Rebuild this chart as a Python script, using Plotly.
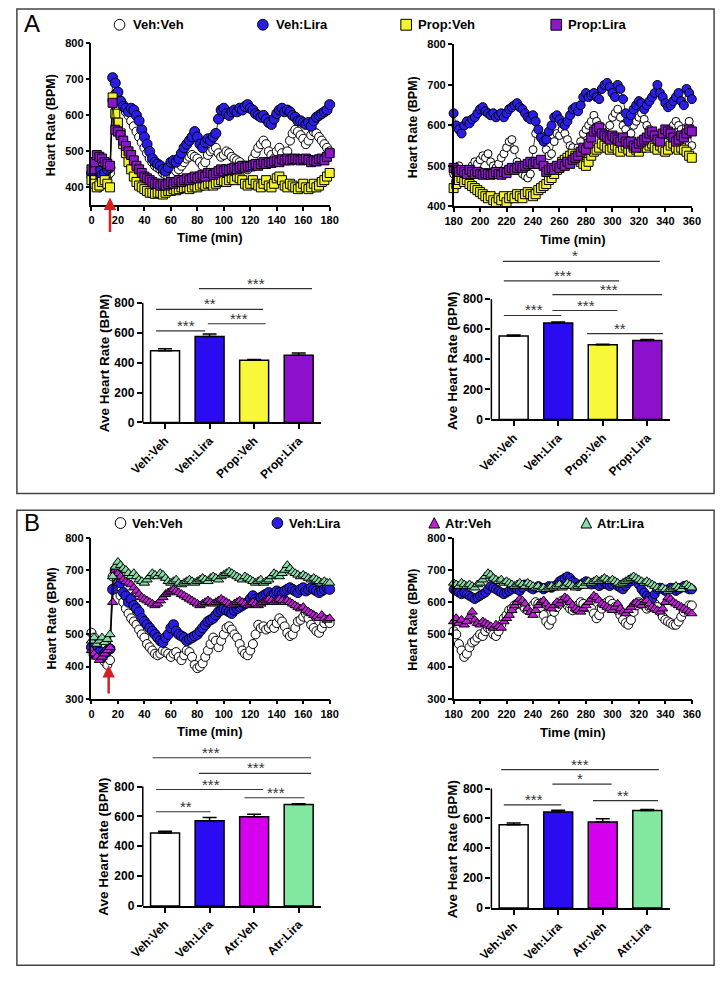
import plotly.graph_objects as go

W, H = 726, 983
FONT = "Liberation Sans, Arial, sans-serif"

# ---------------- time axes ----------------
t_first = list(range(0, 181, 2))
t_second = list(range(180, 361, 2))

# ---------------- Panel A, 0-180 min ----------------
vv_A1 = [430,420,410,400,410,420,430,440,640,660,
         645,640,630,610,600,585,570,555,540,525,
         510,495,480,470,460,455,450,440,435,430,
         425,430,445,450,460,470,480,485,490,485,
         480,470,460,470,490,500,505,510,495,485,
         490,500,495,485,480,475,470,460,455,450,
         460,480,495,510,520,530,520,500,490,480,
         500,510,495,480,500,530,550,560,555,545,
         535,520,530,545,555,550,540,530,520,510,
         500]
vl_A1 = [440,430,450,445,435,440,450,455,705,690,
         665,640,625,620,610,620,615,600,585,560,
         540,520,500,480,470,465,460,450,445,455,
         470,475,470,480,495,510,520,530,540,555,
         540,520,510,525,535,530,540,550,590,615,
         620,605,600,610,615,610,620,615,625,630,
         620,615,605,600,595,600,590,580,575,590,
         605,615,620,610,615,610,600,595,585,585,
         580,575,580,570,585,595,600,605,610,615,
         630]
pv_A1 = [420,410,400,405,415,420,410,400,650,605,
         580,550,520,495,470,450,430,415,405,400,
         395,390,385,385,382,385,385,380,385,390,
         390,395,392,395,400,398,400,395,400,405,
         400,405,410,405,410,412,405,410,415,420,
         418,415,420,425,420,430,425,420,410,405,
         410,420,410,405,400,410,420,405,400,410,
         425,430,420,405,400,410,405,400,395,400,
         410,400,395,400,410,400,405,415,420,430,
         440]
pl_A1 = [450,470,490,485,480,470,465,460,635,560,
         555,545,530,515,500,490,475,460,450,440,
         430,425,420,415,410,410,405,410,405,410,
         415,410,415,420,415,420,425,420,425,430,
         425,430,435,430,440,440,435,440,445,450,
         445,450,448,452,455,450,455,460,455,460,
         458,462,465,460,465,470,465,470,468,472,
         475,470,478,475,480,475,478,480,478,475,
         478,480,476,470,475,472,478,480,475,485,
         495]

# ---------------- Panel A, 180-360 min ----------------
vv_A2 = [480,490,500,490,480,485,490,500,510,505,
         515,525,520,530,510,500,495,505,520,530,
         545,560,565,540,510,490,480,475,470,480,
         540,580,590,575,560,540,525,530,560,580,
         575,590,580,565,550,545,530,545,560,580,
         590,600,610,625,610,600,595,580,570,600,
         620,630,640,620,600,590,575,580,600,610,
         620,630,615,600,590,575,560,565,570,580,
         585,575,590,600,610,600,590,580,595,610,
         550]
vl_A2 = [630,600,590,580,600,610,605,615,620,630,
         640,645,635,630,625,630,620,625,630,620,
         630,640,645,650,655,645,640,630,620,615,
         625,610,590,570,560,565,585,600,620,625,
         615,605,600,610,625,640,645,635,650,670,
         680,670,675,680,670,665,690,700,705,695,
         680,670,700,690,665,630,610,625,640,650,
         660,655,640,650,660,670,680,700,680,670,
         655,645,650,660,670,680,660,650,690,680,
         665]
pv_A2 = [445,455,465,470,460,465,455,450,445,440,
         435,430,425,420,425,415,410,420,415,425,
         410,420,425,420,430,425,420,430,435,430,
         425,430,440,445,450,455,465,470,480,490,
         500,510,515,520,525,530,525,520,510,505,
         500,510,525,535,540,545,555,550,545,540,
         545,550,540,535,545,550,540,535,545,540,
         535,545,550,545,550,555,545,540,550,545,
         535,540,550,555,545,540,545,540,535,525,
         520]
pl_A2 = [495,490,485,490,485,480,490,485,480,485,
         480,478,482,480,478,480,485,480,478,485,
         482,490,495,490,495,500,495,500,505,510,
         505,510,505,515,500,485,490,495,490,500,
         495,505,500,510,505,515,520,525,535,545,
         540,555,570,585,590,595,580,575,570,565,
         575,570,565,560,570,560,555,560,550,545,
         555,560,565,570,580,585,575,565,560,580,
         590,585,580,570,560,565,575,570,580,590,
         585]

# ---------------- Panel B, 0-180 min ----------------
vv_B1 = [505,490,470,450,430,415,405,420,680,690,
         650,620,600,580,565,550,540,530,515,500,
         490,470,460,450,440,435,440,450,445,440,
         430,440,445,430,420,435,450,445,430,405,
         395,400,410,430,450,470,490,480,460,480,
         500,520,525,515,500,490,470,450,440,435,
         450,470,500,530,520,525,515,520,530,520,
         535,550,540,525,505,495,500,520,540,545,
         555,565,550,530,520,510,505,520,535,545,
         535]
vl_B1 = [460,440,450,445,430,440,450,455,640,700,
         690,660,630,620,600,610,590,580,570,550,
         540,530,520,510,500,490,480,475,490,500,
         520,530,510,500,495,490,480,485,490,495,
         500,510,520,530,540,545,550,560,570,575,
         580,575,570,565,575,580,585,590,595,600,
         610,620,610,605,615,620,625,630,620,625,
         635,630,625,635,640,645,640,635,630,640,
         645,635,640,645,640,635,630,635,640,645,
         640]
av_B1 = [450,440,430,420,430,440,450,460,600,700,
         690,680,670,665,660,655,645,635,625,615,
         610,605,600,595,590,595,605,615,625,630,
         635,640,635,630,625,620,615,610,605,600,
         595,590,595,600,605,600,595,600,605,610,
         605,600,595,590,595,600,605,600,595,590,
         595,600,595,590,595,600,605,610,605,600,
         605,610,605,600,605,600,595,590,585,580,
         585,575,570,565,560,555,550,560,550,545,
         550]
al_B1 = [480,490,470,480,490,475,485,500,680,710,
         725,715,705,700,690,680,690,680,670,665,
         660,670,680,690,685,680,690,685,675,665,
         660,665,670,660,655,660,665,670,665,660,
         665,670,675,670,665,675,680,675,670,680,
         685,690,695,690,685,680,675,670,680,675,
         670,665,660,665,670,660,665,670,680,690,
         685,680,690,700,715,705,695,690,685,680,
         685,680,675,670,675,670,665,660,665,660,
         660]

# ---------------- Panel B, 180-360 min ----------------
vv_B2 = [510,500,470,450,430,440,460,475,480,490,
         500,495,510,520,515,500,495,510,530,550,
         560,575,580,590,595,600,590,580,575,580,
         590,600,595,580,560,540,530,545,570,585,
         595,605,600,590,580,575,580,590,600,595,
         585,590,580,565,550,560,580,595,600,605,
         595,585,575,560,545,535,530,545,570,590,
         600,595,590,580,585,590,595,585,570,555,
         545,540,535,530,530,540,555,570,580,590,
         590]
vl_B2 = [640,635,630,625,630,625,620,615,610,615,
         620,625,630,640,650,645,640,635,630,625,
         630,635,640,645,640,635,645,655,650,645,
         640,645,650,645,640,645,650,645,650,655,
         665,670,675,680,675,665,660,650,655,660,
         665,660,655,660,655,650,655,660,655,650,
         655,660,650,645,640,650,660,665,670,665,
         655,640,630,620,615,610,625,640,645,640,
         635,640,645,640,635,640,645,650,645,640,
         640]
av_B2 = [540,550,535,545,530,540,555,570,545,535,
         530,540,535,530,525,520,530,525,520,540,
         550,560,575,590,600,610,605,595,580,570,
         560,575,590,600,605,595,585,580,590,600,
         595,605,615,610,600,590,580,575,570,580,
         590,600,610,620,615,605,595,590,585,580,
         575,585,595,580,570,565,575,585,595,600,
         595,590,600,605,595,585,580,575,570,580,
         600,615,610,600,595,590,585,580,575,570,
         565]
al_B2 = [660,655,650,660,655,650,655,650,645,655,
         660,670,680,690,685,675,670,665,670,660,
         665,660,655,650,655,660,655,650,660,655,
         650,645,650,640,645,640,645,650,645,650,
         655,645,650,660,655,650,645,650,655,650,
         660,665,660,665,670,665,670,675,670,665,
         670,665,660,655,660,665,670,675,680,675,
         670,665,660,665,660,655,650,645,640,645,
         640,635,640,645,650,645,640,650,655,650,
         645]

# ---------------- bar data ----------------
cats_A = ["Veh:Veh", "Veh:Lira", "Prop:Veh", "Prop:Lira"]
cats_B = ["Veh:Veh", "Veh:Lira", "Atr:Veh", "Atr:Lira"]
bar_A1 = [480, 575, 416, 450]
err_A1 = [13, 18, 5, 15]
bar_A2 = [554, 641, 496, 525]
err_A2 = [7, 6, 3, 7]
bar_B1 = [488, 571, 598, 679]
err_B1 = [13, 22, 16, 6]
bar_B2 = [558, 642, 576, 653]
err_B2 = [11, 13, 22, 6]

# significance: (x0, x1, y, label, text_x)
sig_A1 = [(-0.2, 0.9, 614, "***", 0.48), (-0.2, 2.2, 757, "**", 1.0),
          (0.96, 2.26, 661, "***", 1.67), (0.76, 3.3, 897, "***", 2.04)]
sig_A2 = [(-0.22, 1.07, 691, "***", 0.46), (0.87, 2.33, 724, "***", 1.63),
          (1.65, 3.35, 571, "**", 2.39), (0.87, 3.33, 829, "***", 2.15),
          (-0.22, 2.37, 921, "***", 1.11), (-0.24, 3.28, 1051, "*", 1.37)]
sig_B1 = [(-0.2, 1.02, 631, "**", 0.48), (-0.2, 2.2, 780, "***", 1.04),
          (1.78, 3.13, 725, "***", 2.48), (0.76, 3.28, 888, "***", 2.04),
          (-0.28, 3.28, 993, "***", 1.04)]
sig_B2 = [(-0.22, 1.07, 690, "***", 0.46), (0.87, 2.2, 829, "*", 1.5),
          (1.78, 3.24, 719, "**", 2.46), (-0.28, 3.26, 927, "***", 1.5)]

C_WHITE = "#ffffff"
C_BLUE = "#2a1ee6"
C_YELLOW = "#f4f42e"
C_PURPLE = "#8a18c6"
C_MAG = "#c21ed8"
C_GREEN = "#86dca6"
BAR_COLORS_A = ["#ffffff", "#2a0cf2", "#f8f83a", "#8c10cc"]
BAR_COLORS_B = ["#ffffff", "#2a0cf2", "#d400ee", "#82e8a0"]


def P(x):
    return x / W


def Q(y):
    return 1 - y / H


fig = go.Figure()

tick_font = dict(family=FONT, size=11, color="black", weight="bold")


def series(xid, t, y, symbol, color, size, name):
    fig.add_trace(go.Scatter(
        x=t, y=y, mode="lines+markers", name=name, showlegend=False,
        xaxis="x" + xid, yaxis="y" + xid, cliponaxis=False,
        line=dict(color="black", width=0.8),
        marker=dict(symbol=symbol, color=color, size=size,
                    line=dict(color="black", width=1))))


# A left / right
series("", t_first, vv_A1, "circle", C_WHITE, 9, "Veh:Veh")
series("", t_first, vl_A1, "circle", C_BLUE, 10, "Veh:Lira")
series("", t_first, pv_A1, "square", C_YELLOW, 9, "Prop:Veh")
series("", t_first, pl_A1, "square", C_PURPLE, 9, "Prop:Lira")
series("2", t_second, vv_A2, "circle", C_WHITE, 8, "Veh:Veh")
series("2", t_second, vl_A2, "circle", C_BLUE, 9, "Veh:Lira")
series("2", t_second, pv_A2, "square", C_YELLOW, 9, "Prop:Veh")
series("2", t_second, pl_A2, "square", C_PURPLE, 9, "Prop:Lira")
# B left / right
series("5", t_first, vv_B1, "circle", C_WHITE, 9, "Veh:Veh")
series("5", t_first, vl_B1, "circle", C_BLUE, 10, "Veh:Lira")
series("5", t_first, av_B1, "triangle-up", C_MAG, 9, "Atr:Veh")
series("5", t_first, al_B1, "triangle-up", C_GREEN, 9, "Atr:Lira")
series("6", t_second, vv_B2, "circle", C_WHITE, 9, "Veh:Veh")
series("6", t_second, vl_B2, "circle", C_BLUE, 9, "Veh:Lira")
series("6", t_second, av_B2, "triangle-up", C_MAG, 9, "Atr:Veh")
series("6", t_second, al_B2, "triangle-up", C_GREEN, 9, "Atr:Lira")


def bars(xid, cats, vals, errs, colors):
    fig.add_trace(go.Bar(
        x=cats, y=vals, xaxis="x" + xid, yaxis="y" + xid, showlegend=False,
        width=0.65, marker=dict(color=colors, line=dict(color="black", width=1.5)),
        error_y=dict(type="data", symmetric=False, array=errs,
                     arrayminus=[0] * len(errs), color="black",
                     thickness=1.5, width=7)))


bars("3", cats_A, bar_A1, err_A1, BAR_COLORS_A)
bars("4", cats_A, bar_A2, err_A2, BAR_COLORS_A)
bars("7", cats_B, bar_B1, err_B1, BAR_COLORS_B)
bars("8", cats_B, bar_B2, err_B2, BAR_COLORS_B)

layout = dict(width=W, height=H, margin=dict(l=0, r=0, t=0, b=0),
              paper_bgcolor="white", plot_bgcolor="white", showlegend=False,
              font=dict(family=FONT, color="black"))

axis_common = dict(showgrid=False, zeroline=False, showline=True, linecolor="black",
                   linewidth=1.5, ticks="outside", ticklen=4, tickwidth=1.5,
                   tickcolor="black", tickfont=tick_font)

# scatter panels: id -> (x px range, y px range(bottom, top), xrange, yrange, yticks)
scatter_specs = {
    "": ((80, 326), (202, 38), [0, 180], [350, 800], [400, 500, 600, 700, 800]),
    "2": ((454, 700), (203, 39), [180, 360], [400, 800], [400, 500, 600, 700, 800]),
    "5": ((80, 326), (702, 539), [0, 180], [300, 800], [300, 400, 500, 600, 700, 800]),
    "6": ((454, 700), (702, 539), [180, 360], [300, 800], [300, 400, 500, 600, 700, 800]),
}
for sid, (xp, yp, xr, yr, yt) in scatter_specs.items():
    xt = list(range(int(xr[0]), int(xr[1]) + 1, 20))
    layout["xaxis" + sid] = dict(axis_common, domain=[P(xp[0]), P(xp[1])], range=xr,
                                 tickvals=xt, anchor="y" + sid)
    layout["yaxis" + sid] = dict(axis_common, domain=[Q(yp[0]), Q(yp[1])], range=yr,
                                 tickvals=yt, anchor="x" + sid)

# bar panels: id -> (x px range, y px of 0, px per 800, y max)
bar_specs = {
    "3": ((133, 317), 422, 121, 950, cats_A),
    "4": ((493, 677), 419, 122, 1080, cats_A),
    "7": ((133, 317), 912, 121, 1030, cats_B),
    "8": ((493, 677), 914, 121, 960, cats_B),
}
shapes = []
annotations = []
for bid, (xp, y0px, per800, ymax, cats) in bar_specs.items():
    top_px = y0px - ymax * per800 / 800
    layout["xaxis" + bid] = dict(axis_common, domain=[P(xp[0]), P(xp[1])],
                                 type="category", range=[-0.5, 3.5], tickangle=-45,
                                 ticklen=5, anchor="y" + bid,
                                 tickfont=dict(family=FONT, size=12, color="black", weight="bold"))
    layout["yaxis" + bid] = dict(axis_common, domain=[Q(y0px), Q(top_px)], range=[0, ymax],
                                 tickvals=[0, 200, 400, 600, 800], showline=False,
                                 ticklen=5, anchor="x" + bid,
                                 tickfont=dict(family=FONT, size=12, color="black", weight="bold"))
    # y axis line from 0 to 800
    shapes.append(dict(type="line", xref="paper", yref="paper",
                       x0=P(xp[0]), x1=P(xp[0]), y0=Q(y0px), y1=Q(y0px - per800),
                       line=dict(color="black", width=1.5)))

for bid, sig in (("3", sig_A1), ("4", sig_A2), ("7", sig_B1), ("8", sig_B2)):
    for (x0, x1, y, lab, xt) in sig:
        shapes.append(dict(type="line", xref="x" + bid, yref="y" + bid,
                           x0=x0, x1=x1, y0=y, y1=y, line=dict(color="#333", width=1.2)))
        annotations.append(dict(xref="x" + bid, yref="y" + bid, x=xt, y=y, text=lab,
                                showarrow=False, yanchor="bottom", yshift=-5,
                                font=dict(family=FONT, size=15, color="#333")))

# panel frames
shapes.append(dict(type="rect", xref="paper", yref="paper", x0=P(3), x1=P(723),
                   y0=Q(494), y1=Q(3), line=dict(color="#444", width=1.5)))
shapes.append(dict(type="rect", xref="paper", yref="paper", x0=P(3), x1=P(723),
                   y0=Q(972), y1=Q(511), line=dict(color="#444", width=1.5)))

# legends (symbol + label)
legend_items = [
    ("circle", C_WHITE, 109, 19, 121, "Veh:Veh"),
    ("circle", C_BLUE, 257, 19, 268, "Veh:Lira"),
    ("square", C_YELLOW, 405, 19, 415, "Prop:Veh"),
    ("square", C_PURPLE, 560, 19, 570, "Prop:Lira"),
    ("circle", C_WHITE, 110, 524, 120, "Veh:Veh"),
    ("circle", C_BLUE, 272, 524, 282, "Veh:Lira"),
    ("triangle", C_MAG, 434, 524, 443, "Atr:Veh"),
    ("triangle", C_GREEN, 591, 524, 600, "Atr:Lira"),
]
for sym, col, cx, cy, tx, lab in legend_items:
    r = 5.5
    if sym == "circle":
        shapes.append(dict(type="circle", xref="paper", yref="paper",
                           x0=P(cx - r), x1=P(cx + r), y0=Q(cy + r), y1=Q(cy - r),
                           fillcolor=col, line=dict(color="black", width=1)))
    elif sym == "square":
        shapes.append(dict(type="rect", xref="paper", yref="paper",
                           x0=P(cx - r), x1=P(cx + r), y0=Q(cy + r), y1=Q(cy - r),
                           fillcolor=col, line=dict(color="black", width=1)))
    else:
        path = "M %f,%f L %f,%f L %f,%f Z" % (P(cx - r), Q(cy + r - 0.5), P(cx + r), Q(cy + r - 0.5),
                                               P(cx), Q(cy - r))
        shapes.append(dict(type="path", xref="paper", yref="paper", path=path,
                           fillcolor=col, line=dict(color="black", width=1)))
    annotations.append(dict(xref="paper", yref="paper", x=P(tx), y=Q(cy), text=lab,
                            xanchor="left", yanchor="middle", showarrow=False,
                            font=dict(family=FONT, size=13, color="black", weight="bold")))

# panel letters
for lab, x, y in (("A", 19, 18), ("B", 19, 523)):
    annotations.append(dict(xref="paper", yref="paper", x=P(x), y=Q(y), text=lab,
                            showarrow=False, xanchor="center", yanchor="middle",
                            font=dict(family=FONT, size=24, color="black")))

# axis titles
title_font = dict(family=FONT, size=13, color="black", weight="bold")
for x, y in ((202, 235), (577, 237), (202, 735), (577, 736)):
    annotations.append(dict(xref="paper", yref="paper", x=P(x), y=Q(y), text="Time (min)",
                            showarrow=False, xanchor="center", yanchor="middle", font=title_font))
for x, y in ((39, 121), (412, 123), (39, 621), (412, 622)):
    annotations.append(dict(xref="paper", yref="paper", x=P(x), y=Q(y), text="Heart Rate (BPM)",
                            showarrow=False, textangle=-90, xanchor="center", yanchor="middle",
                            font=dict(family=FONT, size=12.5, color="black", weight="bold")))
for x, y in ((93, 362), (453, 360), (93, 852), (453, 855)):
    annotations.append(dict(xref="paper", yref="paper", x=P(x), y=Q(y), text="Ave Heart Rate (BPM)",
                            showarrow=False, textangle=-90, xanchor="center", yanchor="middle",
                            font=dict(family=FONT, size=13.5, color="black", weight="bold")))

# injection arrows
annotations.append(dict(xref="x", yref="y", x=14, y=372, ax=0, ay=36, text="",
                        showarrow=True, arrowhead=2, arrowsize=1, arrowwidth=2.5,
                        arrowcolor="#d42020"))
annotations.append(dict(xref="x5", yref="y5", x=13, y=405, ax=0, ay=30, text="",
                        showarrow=True, arrowhead=2, arrowsize=1, arrowwidth=2.5,
                        arrowcolor="#d42020"))

layout["shapes"] = shapes
layout["annotations"] = annotations
fig.update_layout(**layout)
fig.write_html("out.html", post_script="document.body.style.margin='0px';",
               config=dict(displayModeBar=False))
